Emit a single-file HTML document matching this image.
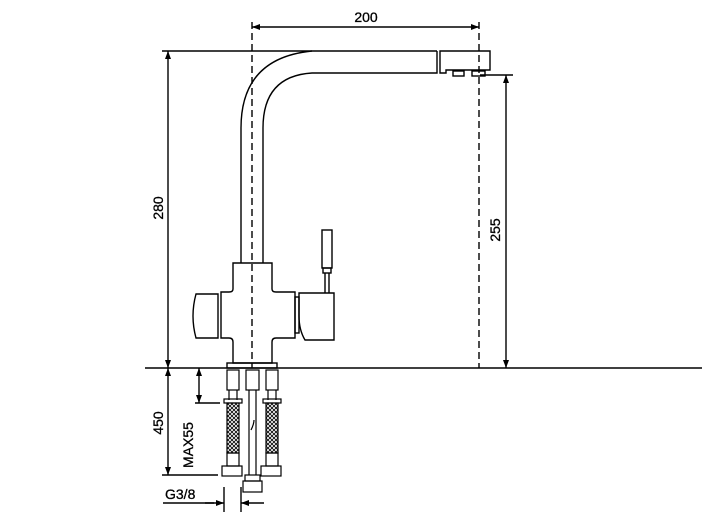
<!DOCTYPE html>
<html><head><style>
html,body{margin:0;padding:0;background:#fff;width:702px;height:523px;overflow:hidden}
svg{display:block}
text{font-family:"Liberation Sans",sans-serif;font-size:14px;fill:#000;stroke:#000;stroke-width:0.3}
</style></head><body>
<svg width="702" height="523" viewBox="0 0 702 523" xmlns="http://www.w3.org/2000/svg">
<defs>
<marker id="a" markerWidth="8" markerHeight="6" refX="8" refY="3" orient="auto-start-reverse" markerUnits="userSpaceOnUse"><path d="M0,0 L8,3 L0,6 z" fill="#000"/></marker>
<pattern id="mesh" width="4" height="4" patternUnits="userSpaceOnUse"><path d="M0,0 L4,4 M4,0 L0,4" stroke="#000" stroke-width="0.8"/></pattern>
</defs>
<g stroke="#000" fill="none" stroke-width="1.4">
<line x1="252" y1="27" x2="479" y2="27" marker-start="url(#a)" marker-end="url(#a)"/>
<line x1="162" y1="51" x2="437" y2="51"/>
<line x1="168" y1="51" x2="168" y2="368" marker-start="url(#a)" marker-end="url(#a)"/>
<line x1="480" y1="75" x2="513" y2="75"/>
<line x1="506" y1="75" x2="506" y2="368" marker-start="url(#a)" marker-end="url(#a)"/>
<line x1="145" y1="368" x2="702" y2="368" stroke-width="1.6"/>
<line x1="168" y1="368" x2="168" y2="475" marker-start="url(#a)" marker-end="url(#a)"/>
<line x1="162" y1="475" x2="218" y2="475"/>
<line x1="199" y1="368" x2="199" y2="403" marker-start="url(#a)" marker-end="url(#a)"/>
<line x1="195" y1="403" x2="220" y2="403"/>
<line x1="163" y1="503" x2="214" y2="503"/>
<line x1="224" y1="487" x2="224" y2="512"/>
<line x1="241" y1="487" x2="241" y2="512"/>
<line x1="205" y1="503" x2="224" y2="503" marker-end="url(#a)"/>
<line x1="264" y1="503" x2="241" y2="503" marker-end="url(#a)"/>
<line x1="252" y1="22" x2="252" y2="368" stroke-dasharray="7,4"/>
<line x1="479" y1="22" x2="479" y2="368" stroke-dasharray="7,4"/>
<path d="M312,51 Q241,58 241,128 L241,263"/>
<path d="M437,51 L437,73 L312,73 Q263,76 263,128 L263,263"/>
<path d="M440,51 L490,51 L490,70 L446,70 L446,73 L440,73 Z"/>
<rect x="453" y="71" width="11" height="5"/>
<rect x="472" y="71" width="13" height="5"/>
<path d="M233,263 L272,263 L272,289 Q272,292 276,292 L295,292 L295,338 L276,338 Q272,338 272,342 L272,363 L233,363 L233,342 Q233,338 229,338 L221,338 L221,292 L229,292 Q233,292 233,289 Z"/>
<path d="M218,294 L196,294 Q190,316 196,338 L218,338 Z"/>
<rect x="295" y="297" width="4" height="36"/>
<path d="M299,293 L334,293 L334,340 L305,340 Q299,330 299,316 Z"/>
<rect x="322" y="230" width="10" height="38"/>
<rect x="323" y="268" width="8" height="5"/>
<line x1="325" y1="273" x2="325" y2="293"/><line x1="329" y1="273" x2="329" y2="293"/>
<rect x="227" y="363" width="50" height="5"/>
<g stroke-width="1.2">
<rect x="227" y="370" width="12" height="20"/><line x1="229" y1="390" x2="229" y2="400"/><line x1="237" y1="390" x2="237" y2="400"/>
<rect x="224" y="399" width="18" height="4"/>
<rect x="227" y="403" width="12" height="50" fill="url(#mesh)"/>
<rect x="227" y="453" width="12" height="13"/>
<rect x="222" y="466" width="20" height="10"/>
<rect x="266" y="370" width="12" height="20"/><line x1="268" y1="390" x2="268" y2="400"/><line x1="276" y1="390" x2="276" y2="400"/>
<rect x="263" y="399" width="18" height="4"/>
<rect x="266" y="403" width="12" height="50" fill="url(#mesh)"/>
<rect x="266" y="453" width="12" height="13"/>
<rect x="261" y="466" width="20" height="10"/>
<rect x="246" y="370" width="13" height="20"/>
<line x1="249" y1="390" x2="249" y2="475"/><line x1="256" y1="390" x2="256" y2="475"/>
<path d="M251,430 Q254,424 254,420"/>
<rect x="245" y="475" width="15" height="6"/>
<rect x="243" y="481" width="19" height="11"/>
</g>
</g>
<text x="366" y="22" text-anchor="middle">200</text>
<text transform="translate(163,208) rotate(-90)" text-anchor="middle">280</text>
<text transform="translate(500,230) rotate(-90)" text-anchor="middle">255</text>
<text transform="translate(163,423) rotate(-90)" text-anchor="middle">450</text>
<text transform="translate(193,445) rotate(-90)" text-anchor="middle">MAX55</text>
<text x="165" y="499">G3/8</text>
</svg>
</body></html>
